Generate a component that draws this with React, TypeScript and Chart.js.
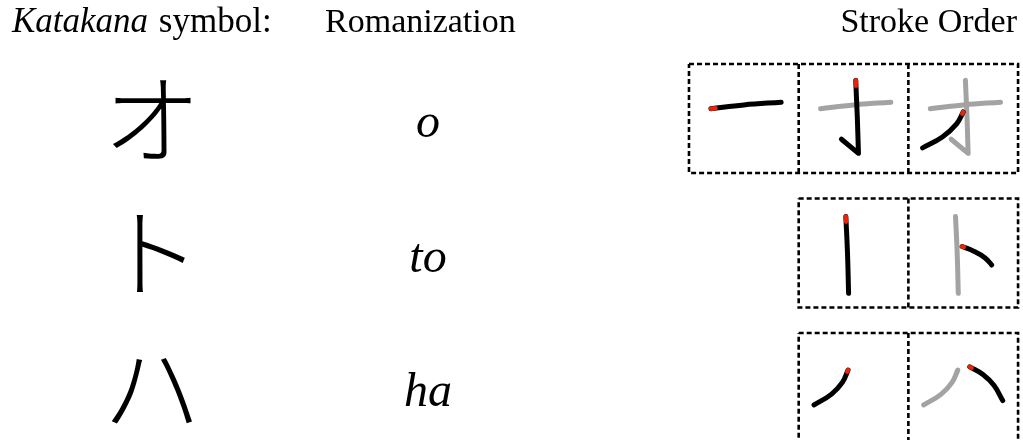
import React, { useEffect, useRef } from "react";
import { Chart, registerables } from "chart.js";

Chart.register(...registerables);

// ---- data ----
const katakana = ["オ", "ト", "ハ"];
const romanizations = ["o", "to", "ha"];
const headerItalic = "Katakana";
const headerRest = " symbol:";
const headerRoman = "Romanization";
const headerStroke = "Stroke Order";

// stroke paths, in cell-local units (0..1 across, 0..1 down)
const strokesO: number[][][] = [
  [[0.2, 0.41], [0.5, 0.375], [0.84, 0.35]],
  [[0.52, 0.15], [0.535, 0.5], [0.545, 0.82], [0.39, 0.69]],
  [[0.5, 0.44], [0.44, 0.55], [0.31, 0.67], [0.13, 0.77]],
];
const strokesTo: number[][][] = [
  [[0.43, 0.165], [0.445, 0.5], [0.455, 0.87]],
  [[0.49, 0.44], [0.6, 0.485], [0.7, 0.545], [0.76, 0.61]],
];
const strokesHa: number[][][] = [
  [[0.45, 0.34], [0.4, 0.45], [0.3, 0.56], [0.14, 0.66]],
  [[0.56, 0.31], [0.68, 0.38], [0.78, 0.48], [0.86, 0.62]],
];
const strokeSets = [strokesO, strokesTo, strokesHa];
// whether each stroke is a smooth curve (false = sharp hook)
const strokeSmooth = [
  [true, false, true],
  [true, true],
  [true, true],
];

// ---- layout (scale units: x = one stroke cell, y = one table row) ----
const MAX_CELLS = 3;
const X_MIN = -6.281;
const X_MAX = 3.045;
const Y_MIN = -0.881;
const Y_MAX = 2.39;
const CELL_H = 0.81;
const HEADER_Y = -0.643;
const KANA_X = -4.895;
const ROMAN_X = -2.379;
const HEADER_LEFT = -6.172;
const ROMAN_HEADER_LEFT = -3.318;
const STROKE_HEADER_RIGHT = 2.99;

const SERIF = '"Liberation Serif", "Times New Roman", serif';

function toPoint(col: number, row: number, p: number[]) {
  return { x: col + p[0], y: row - CELL_H / 2 + p[1] * CELL_H };
}

function strokeDataset(points: any[], color: string, order: number, smooth: boolean) {
  return {
    type: "line",
    data: points,
    borderColor: color,
    borderWidth: 5,
    borderCapStyle: "round",
    borderJoinStyle: "round",
    pointRadius: 0,
    tension: smooth ? 0.4 : 0,
    fill: false,
    order,
  };
}

function buildDatasets() {
  const out: any[] = [];
  strokeSets.forEach((strokes, row) => {
    const n = strokes.length;
    const first = MAX_CELLS - n;
    const top = row - CELL_H / 2;
    const bottom = row + CELL_H / 2;
    const dash = {
      type: "line",
      borderColor: "#000",
      borderWidth: 2.6,
      borderDash: [5, 3],
      pointRadius: 0,
      fill: false,
      tension: 0,
      order: 4,
    };
    out.push({
      ...dash,
      data: [
        { x: first, y: top },
        { x: MAX_CELLS, y: top },
        { x: MAX_CELLS, y: bottom },
        { x: first, y: bottom },
        { x: first, y: top },
      ],
    });
    for (let c = first + 1; c < MAX_CELLS; c++) {
      out.push({ ...dash, data: [{ x: c, y: top }, { x: c, y: bottom }] });
    }
    strokes.forEach((_, k) => {
      const col = first + k;
      for (let j = 0; j < k; j++) {
        out.push(
          strokeDataset(strokes[j].map((p) => toPoint(col, row, p)), "#a3a3a3", 3, strokeSmooth[row][j])
        );
      }
      const cur = strokes[k];
      out.push(strokeDataset(cur.map((p) => toPoint(col, row, p)), "#000", 2, strokeSmooth[row][k]));
      const s = cur[0];
      const nx = cur[1];
      const t = 0.14;
      out.push({
        type: "line",
        data: [
          toPoint(col, row, s),
          toPoint(col, row, [s[0] + (nx[0] - s[0]) * t, s[1] + (nx[1] - s[1]) * t]),
        ],
        borderColor: "#e8230c",
        borderWidth: 4.5,
        borderCapStyle: "round",
        pointRadius: 0,
        tension: 0,
        fill: false,
        order: 1,
      });
    });
  });
  return out;
}

const textPlugin = {
  id: "tableText",
  afterDraw(chart: any) {
    const { ctx, scales } = chart;
    const xs = scales.x;
    const ys = scales.y;
    ctx.save();
    ctx.fillStyle = "#000";
    ctx.textBaseline = "alphabetic";
    // headers
    const hy = ys.getPixelForValue(HEADER_Y);
    ctx.textAlign = "left";
    ctx.font = `italic 35px ${SERIF}`;
    const hx = xs.getPixelForValue(HEADER_LEFT);
    ctx.fillText(headerItalic, hx, hy);
    const w = ctx.measureText(headerItalic).width;
    ctx.font = `35px ${SERIF}`;
    ctx.fillText(headerRest, hx + w + 2, hy);
    ctx.font = `34px ${SERIF}`;
    ctx.fillText(headerRoman, xs.getPixelForValue(ROMAN_HEADER_LEFT), hy);
    ctx.textAlign = "right";
    ctx.fillText(headerStroke, xs.getPixelForValue(STROKE_HEADER_RIGHT), hy);
    // rows
    katakana.forEach((k, i) => {
      ctx.textAlign = "center";
      ctx.textBaseline = "middle";
      ctx.font = `300 98px "Noto Sans CJK JP"`;
      ctx.fillText(k, xs.getPixelForValue(KANA_X), ys.getPixelForValue(i));
      ctx.textBaseline = "alphabetic";
      ctx.font = `italic 48px ${SERIF}`;
      ctx.fillText(romanizations[i], xs.getPixelForValue(ROMAN_X), ys.getPixelForValue(i + 0.14));
    });
    ctx.restore();
  },
};

export default function App() {
  const ref = useRef<HTMLCanvasElement | null>(null);
  useEffect(() => {
    document.body.style.margin = "0";
    const canvas = ref.current;
    if (!canvas) return;
    const chart = new Chart(canvas, {
      type: "scatter",
      data: { datasets: buildDatasets() as any },
      options: {
        animation: false,
        responsive: false,
        events: [],
        layout: { padding: 0 },
        plugins: { legend: { display: false }, tooltip: { enabled: false } },
        scales: {
          x: { type: "linear", min: X_MIN, max: X_MAX, display: false },
          y: { type: "linear", min: Y_MIN, max: Y_MAX, reverse: true, display: false },
        },
      },
      plugins: [textPlugin],
    });
    return () => chart.destroy();
  }, []);
  return (
    <div style={{ width: 1023, height: 440, background: "#fff" }}>
      <canvas ref={ref} width={1023} height={440} style={{ display: "block" }} />
    </div>
  );
}
